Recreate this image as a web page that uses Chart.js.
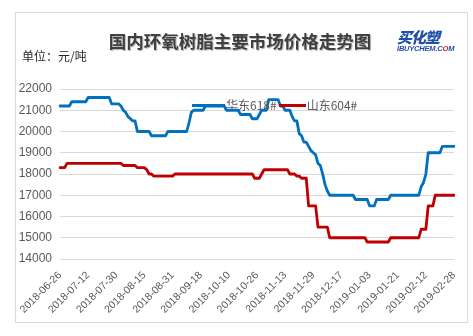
<!DOCTYPE html>
<html>
<head>
<meta charset="utf-8">
<script src="https://cdn.jsdelivr.net/npm/chart.js@4/dist/chart.umd.min.js"></script>
<style>
  html, body { margin: 0; padding: 0; background: #fff; }
  #wrap { position: relative; width: 473px; height: 336px; overflow: hidden; }
  #frame { position: absolute; left: 15px; top: 12px; width: 451px; height: 309px; border: 1px solid #d9d9d9; }
  canvas { position: absolute; left: 0; top: 0; }
  #title { position: absolute; left: 100px; width: 280px; top: 30px; text-align: center; font: bold 17.5px "Noto Sans CJK SC", sans-serif; color: #404040; line-height: 22px; text-shadow: 1px 1px 1px #b0b0b0; white-space: nowrap; }
  #unit { position: absolute; left: 22px; top: 48px; font: 12px "Noto Sans CJK SC", sans-serif; color: #262626; line-height: 16px; white-space: nowrap; }
  #logo1 { position: absolute; left: 397px; top: 28px; font: italic 900 15px "Noto Sans CJK SC", sans-serif; color: #1f4fa8; letter-spacing: -1px; line-height: 18px; }
  #logo2 { position: absolute; left: 397px; top: 45px; font: italic 900 7.5px "Liberation Sans", sans-serif; color: #1f4fa8; line-height: 8px; letter-spacing: -0.2px; }
  #logo2 b { color: #d02020; }
  #legend { position: absolute; left: 192px; top: 97px; height: 16px; font: 12px "Noto Sans CJK SC", sans-serif; color: #595959; white-space: nowrap; }
  .li { display: inline-block; vertical-align: top; line-height: 16px; }
  .sw { display: inline-block; width: 33px; height: 3px; vertical-align: middle; margin-right: 1px; position: relative; top: -1px; }
</style>
</head>
<body>
<div id="wrap">
  <div id="frame"></div>
  <canvas id="c" width="473" height="336"></canvas>
  <div id="title">国内环氧树脂主要市场价格走势图</div>
  <div id="unit">单位：元/吨</div>
  <div id="logo1">买化塑</div>
  <div id="logo2">IBUYCHEM.C<b>O</b>M</div>
  <div id="legend"></div>
</div>
<script>
const tickLabels = ["2018-06-26","2018-07-12","2018-07-30","2018-08-15","2018-08-31","2018-09-18","2018-10-10","2018-10-26","2018-11-13","2018-11-29","2018-12-17","2019-01-03","2019-01-21","2019-02-12","2019-02-28"];
const seriesNames = ["华东618#", "山东604#"];

const eastChina618 = [
  21200,21200,21200,21200,21200,21400,21400,21400,21400,21400,21400,21400,
  21600,21600,21600,21600,21600,21600,21600,21600,21600,21600,21300,21300,
  21300,21300,21200,21000,20900,20700,20600,20500,20500,20000,20000,20000,
  20000,20000,20000,19800,19800,19800,19800,19800,19800,19800,20000,20000,
  20000,20000,20000,20000,20000,20000,20000,20400,20900,21000,21000,21000,
  21000,21000,21200,21200,21200,21200,21200,21200,21200,21200,21200,21000,
  21000,21000,21000,21000,21000,20800,20800,20800,20800,20800,20600,20600,
  20600,20800,21000,21000,21000,21500,21500,21500,21500,21500,21200,21200,
  21000,21000,21000,20700,20500,20500,19900,19800,19500,19500,19300,19100,
  19000,18900,18500,18400,18000,17500,17200,17000,17000,17000,17000,17000,
  17000,17000,17000,17000,17000,17000,16800,16800,16800,16800,16800,16800,
  16500,16500,16500,16800,16800,16800,16800,16800,16800,17000,17000,17000,
  17000,17000,17000,17000,17000,17000,17000,17000,17000,17000,17400,17600,
  18000,19000,19000,19000,19000,19000,19000,19300,19300,19300,19300,19300,
  19300
];

const shandong604 = [
  18300,18300,18300,18500,18500,18500,18500,18500,18500,18500,18500,18500,
  18500,18500,18500,18500,18500,18500,18500,18500,18500,18500,18500,18500,
  18500,18500,18500,18400,18400,18400,18400,18400,18400,18300,18300,18300,
  18300,18200,18000,18000,17900,17900,17900,17900,17900,17900,17900,17900,
  17900,18000,18000,18000,18000,18000,18000,18000,18000,18000,18000,18000,
  18000,18000,18000,18000,18000,18000,18000,18000,18000,18000,18000,18000,
  18000,18000,18000,18000,18000,18000,18000,18000,18000,18000,18000,17800,
  17800,17800,18000,18200,18200,18200,18200,18200,18200,18200,18200,18200,
  18200,18200,18000,18000,18000,17900,17900,17800,17800,17800,16500,16500,
  16500,16500,15500,15500,15500,15500,15500,15000,15000,15000,15000,15000,
  15000,15000,15000,15000,15000,15000,15000,15000,15000,15000,15000,14800,
  14800,14800,14800,14800,14800,14800,14800,14800,14800,15000,15000,15000,
  15000,15000,15000,15000,15000,15000,15000,15000,15000,15000,15400,15400,
  15400,16500,16500,16500,17000,17000,17000,17000,17000,17000,17000,17000,
  17000
];

const yTicks = [14000,15000,16000,17000,18000,19000,20000,21000,22000];
const colors = ["#0070c0", "#c00000"];
const LABEL_EVERY = 12;

const categories = eastChina618.map((_, i) => (i % LABEL_EVERY === 0 ? tickLabels[i / LABEL_EVERY] : ""));

const chart = new Chart(document.getElementById("c"), {
  type: "line",
  data: {
    labels: categories,
    datasets: [
      { label: seriesNames[0], data: eastChina618, borderColor: colors[0], backgroundColor: colors[0], borderWidth: 2.8, pointRadius: 0, tension: 0, borderJoinStyle: "round", borderCapStyle: "round" },
      { label: seriesNames[1], data: shandong604, borderColor: colors[1], backgroundColor: colors[1], borderWidth: 2.8, pointRadius: 0, tension: 0, borderJoinStyle: "round", borderCapStyle: "round" }
    ]
  },
  options: {
    responsive: false,
    animation: false,
    layout: { padding: { top: 89, right: 19, bottom: 17, left: 0 } },
    plugins: { legend: { display: false }, tooltip: { enabled: false } },
    scales: {
      x: {
        type: "category",
        offset: false,
        grid: { display: false, drawTicks: false },
        border: { display: false },
        afterFit: (s) => { s.height = 60; },
        ticks: {
          autoSkip: false,
          minRotation: 45,
          maxRotation: 45,
          padding: 10,
          color: "#595959",
          font: { family: "Liberation Sans", size: 10.5 },
          callback: function (v, i) { return categories[i] === "" ? null : categories[i]; }
        }
      },
      y: {
        min: yTicks[0],
        max: yTicks[yTicks.length - 1],
        afterFit: (s) => { s.width = 60; },
        afterBuildTicks: (s) => { s.ticks = yTicks.map(v => ({ value: v })); },
        grid: { color: "#d9d9d9", lineWidth: 1, drawTicks: false },
        border: { display: false },
        ticks: { padding: 8, color: "#595959", font: { family: "Liberation Sans", size: 12 }, callback: (v) => String(v) }
      }
    }
  }
});

const legend = document.getElementById("legend");
chart.data.datasets.forEach((ds, k) => {
  const item = document.createElement("span");
  item.className = "li";
  if (k > 0) item.style.marginLeft = "2px";
  const sw = document.createElement("span");
  sw.className = "sw";
  sw.style.background = ds.borderColor;
  if (k > 0) sw.style.width = "27px";
  item.appendChild(sw);
  item.appendChild(document.createTextNode(ds.label));
  legend.appendChild(item);
});
</script>
</body>
</html>
